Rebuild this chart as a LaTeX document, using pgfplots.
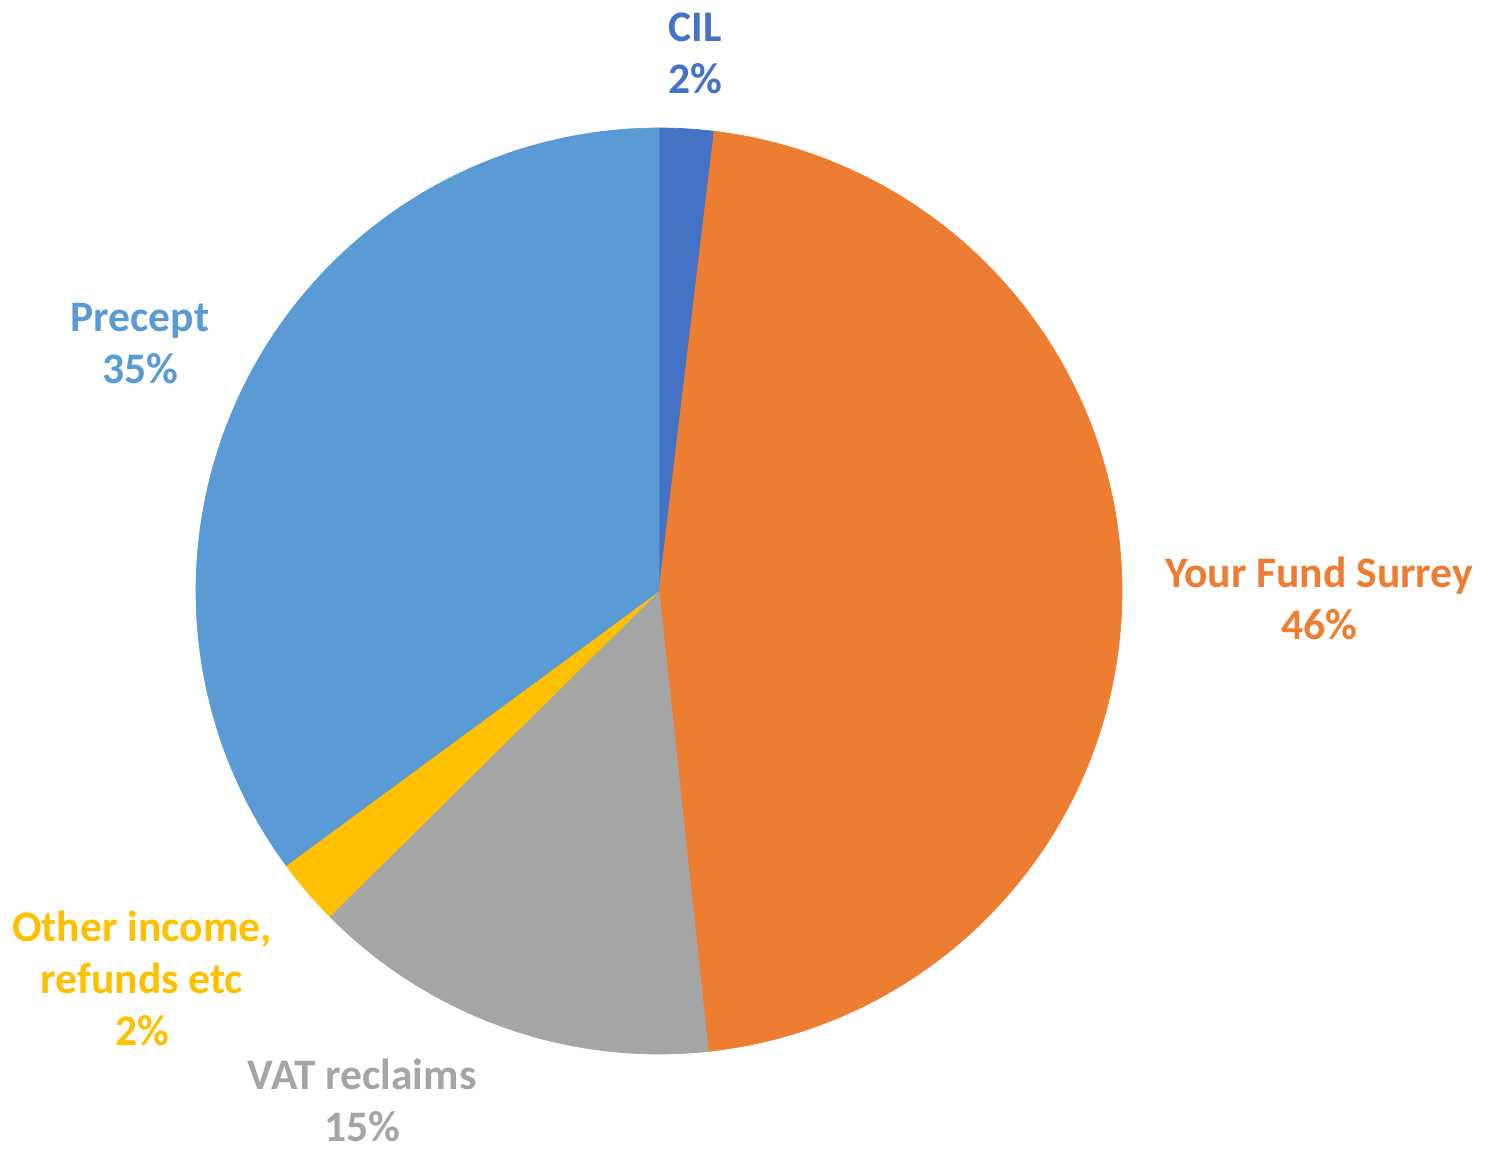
\documentclass[border=0pt]{standalone}
\usepackage{pgfplots}
\pgfplotsset{compat=1.18}
\usepackage{fontspec}
\setmainfont{Carlito}
\definecolor{cCIL}{HTML}{4472C4}
\definecolor{cYFS}{HTML}{ED7D31}
\definecolor{cVAT}{HTML}{A5A5A5}
\definecolor{cOTH}{HTML}{FFC000}
\definecolor{cPRE}{HTML}{5B9BD5}
% shares in percent, clockwise from 12 o'clock
% CIL 1.9, Your Fund Surrey 46.4, VAT reclaims 14.3, Other income 2.3, Precept 35.1
\begin{document}
\begin{tikzpicture}
\begin{axis}[
  scale only axis, width=14.92cm, height=11.51cm,
  xmin=0, xmax=1492, ymin=0, ymax=1151,
  hide axis, clip=false,
]
\addplot[fill=cCIL, draw=cCIL, line width=0.2pt, domain={90-3.6*(1.9)}:{90}, samples=40, variable=\t]
  ({659+463*cos(\t)},{560+463*sin(\t)}) -- (axis cs:659,560) -- cycle;
\addplot[fill=cYFS, draw=cYFS, line width=0.2pt, domain={90-3.6*(1.9+46.4)}:{90-3.6*(1.9)}, samples=200, variable=\t]
  ({659+463*cos(\t)},{560+463*sin(\t)}) -- (axis cs:659,560) -- cycle;
\addplot[fill=cVAT, draw=cVAT, line width=0.2pt, domain={90-3.6*(1.9+46.4+14.3)}:{90-3.6*(1.9+46.4)}, samples=80, variable=\t]
  ({659+463*cos(\t)},{560+463*sin(\t)}) -- (axis cs:659,560) -- cycle;
\addplot[fill=cOTH, draw=cOTH, line width=0.2pt, domain={90-3.6*(1.9+46.4+14.3+2.3)}:{90-3.6*(1.9+46.4+14.3)}, samples=30, variable=\t]
  ({659+463*cos(\t)},{560+463*sin(\t)}) -- (axis cs:659,560) -- cycle;
\addplot[fill=cPRE, draw=cPRE, line width=0.2pt, domain={90-3.6*(100)}:{90-3.6*(1.9+46.4+14.3+2.3)}, samples=160, variable=\t]
  ({659+463*cos(\t)},{560+463*sin(\t)}) -- (axis cs:659,560) -- cycle;
\begin{scope}[every node/.style={align=center, inner sep=1pt, font=\fontsize{12.4}{14.8}\selectfont\bfseries}]
\node[text=cCIL] at (axis cs:695,1098) {CIL\\2\%};
\node[text=cPRE] at (axis cs:140,807) {Precept\\35\%};
\node[text=cYFS] at (axis cs:1319,553) {Your Fund Surrey\\46\%};
\node[text=cOTH] at (axis cs:142,173) {Other income,\\refunds etc\\2\%};
\node[text=cVAT] at (axis cs:362,51) {VAT reclaims\\15\%};
\end{scope}
\end{axis}
\pgfresetboundingbox
\useasboundingbox (current axis.south west) rectangle (current axis.north east);
\end{tikzpicture}
\end{document}
